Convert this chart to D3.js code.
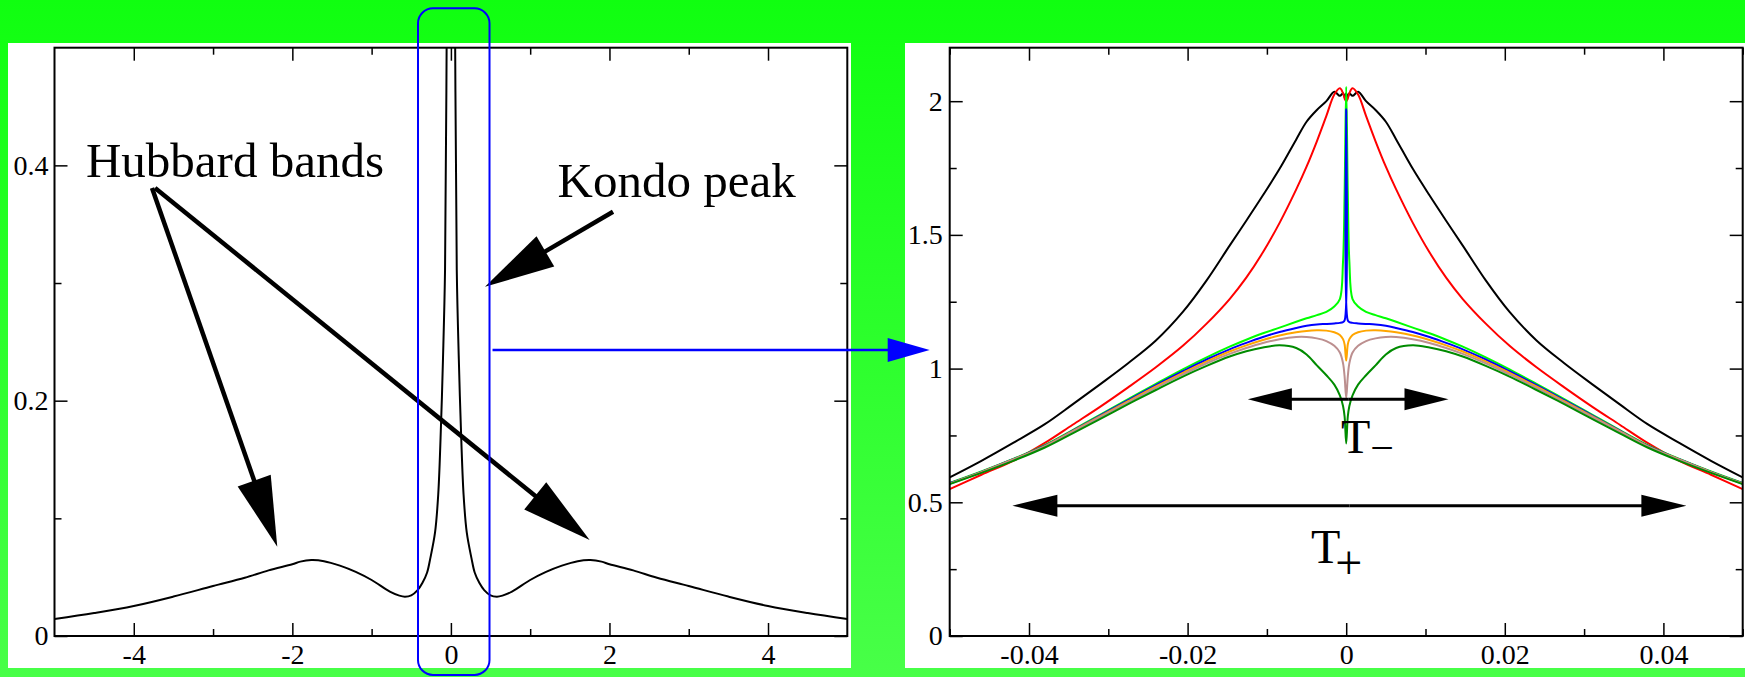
<!DOCTYPE html>
<html>
<head>
<meta charset="utf-8">
<script src="https://cdn.jsdelivr.net/npm/d3@7"></script>
<style>
  html, body { margin: 0; padding: 0; background: #fff; }
  svg { display: block; }
</style>
</head>
<body>
<svg id="fig" width="1745" height="677"></svg>
<script>
// ---- Left panel: full spectral function A(w) over the whole band ----
const wideEnergy = [-5, -4.5, -4, -3.5, -3, -2.6, -2.3, -2, -1.9, -1.76, -1.6, -1.4, -1.2, -1, -0.77, -0.65, -0.58, -0.5, -0.42,
  -0.36, -0.3, -0.26, -0.2, -0.16, -0.124, -0.1, -0.074, -0.054, -0.035, -0.02, 0,
  0.02, 0.035, 0.054, 0.074, 0.1, 0.124, 0.16, 0.2, 0.26, 0.3, 0.36, 0.42, 0.5, 0.58, 0.65,
  0.77, 1, 1.2, 1.4, 1.6, 1.76, 1.9, 2, 2.3, 2.6, 3, 3.5, 4, 4.5, 5];
const wideDos = [0.0144, 0.0195, 0.0255, 0.0335, 0.0425, 0.0495, 0.0558, 0.061, 0.0632, 0.0645, 0.0636, 0.0598, 0.0545, 0.0476, 0.0377, 0.0343, 0.0334, 0.0345, 0.039,
  0.045, 0.054, 0.066, 0.088, 0.12, 0.181, 0.235, 0.311, 0.5, 0.75, 0.95, 1.08,
  0.95, 0.75, 0.5, 0.311, 0.235, 0.181, 0.12, 0.088, 0.066, 0.054, 0.045, 0.039, 0.0345, 0.0334, 0.0343,
  0.0377, 0.0476, 0.0545, 0.0598, 0.0636, 0.0645, 0.0632, 0.061, 0.0558, 0.0495, 0.0425, 0.0335, 0.0255, 0.0195, 0.0144];
const wideXMajor = [-4, -2, 0, 2, 4];
const wideXMinor = [-3, -1, 1, 3];
const wideYMajor = [0, 0.2, 0.4];
const wideYMinor = [0.1, 0.3];

// ---- Right panel: the Kondo resonance region for several runs ----
const zoomEnergy = [-0.05, -0.046, -0.042, -0.038, -0.0345, -0.031, -0.0275, -0.024, -0.0206, -0.0176, -0.0147,
  -0.0126, -0.0105, -0.0084, -0.0063, -0.005, -0.0037, -0.0025, -0.0015, -0.0008, -0.0004, -0.0002, 0,
  0.0002, 0.0004, 0.0008, 0.0015, 0.0025, 0.0037, 0.005, 0.0063, 0.0084, 0.0105, 0.0126,
  0.0147, 0.0176, 0.0206, 0.024, 0.0275, 0.031, 0.0345, 0.038, 0.042, 0.046, 0.05];
const dosBlack = [0.593, 0.655, 0.722, 0.792, 0.866, 0.942, 1.02, 1.105, 1.212, 1.33, 1.46,
  1.553, 1.648, 1.747, 1.857, 1.923, 1.967, 2.0, 2.035, 2.02, 2.03, 2.015, 2.03,
  2.015, 2.03, 2.02, 2.035, 2.0, 1.967, 1.923, 1.857, 1.747, 1.648, 1.553,
  1.46, 1.33, 1.212, 1.105, 1.02, 0.942, 0.866, 0.792, 0.722, 0.655, 0.593];
const dosRed = [0.549, 0.603, 0.655, 0.722, 0.79, 0.858, 0.93, 1.005, 1.085, 1.168, 1.26,
  1.34, 1.435, 1.545, 1.67, 1.755, 1.85, 1.945, 2.025, 2.048, 2.03, 2.01, 2.0,
  2.01, 2.03, 2.048, 2.025, 1.945, 1.85, 1.755, 1.67, 1.545, 1.435, 1.34,
  1.26, 1.168, 1.085, 1.005, 0.93, 0.858, 0.79, 0.722, 0.655, 0.603, 0.549];
const dosGreen = [0.572, 0.615, 0.662, 0.714, 0.77, 0.828, 0.886, 0.943, 0.997, 1.042, 1.082,
  1.108, 1.132, 1.153, 1.175, 1.188, 1.2, 1.212, 1.232, 1.26, 1.40, 1.66, 2.054,
  1.66, 1.40, 1.26, 1.232, 1.212, 1.2, 1.188, 1.175, 1.153, 1.132, 1.108,
  1.082, 1.042, 0.997, 0.943, 0.886, 0.828, 0.77, 0.714, 0.662, 0.615, 0.572];
const dosBlue = [0.571, 0.614, 0.661, 0.712, 0.768, 0.825, 0.882, 0.938, 0.99, 1.034, 1.072,
  1.096, 1.118, 1.137, 1.152, 1.16, 1.165, 1.167, 1.169, 1.171, 1.174, 1.18, 1.97,
  1.18, 1.174, 1.171, 1.169, 1.167, 1.165, 1.16, 1.152, 1.137, 1.118, 1.096,
  1.072, 1.034, 0.99, 0.938, 0.882, 0.825, 0.768, 0.712, 0.661, 0.614, 0.571];
const dosOrange = [0.57, 0.613, 0.66, 0.71, 0.766, 0.822, 0.878, 0.933, 0.984, 1.027, 1.064,
  1.087, 1.107, 1.124, 1.136, 1.141, 1.143, 1.142, 1.136, 1.126, 1.11, 1.09, 1.03,
  1.09, 1.11, 1.126, 1.136, 1.142, 1.143, 1.141, 1.136, 1.124, 1.107, 1.087,
  1.064, 1.027, 0.984, 0.933, 0.878, 0.822, 0.766, 0.71, 0.66, 0.613, 0.57];
const dosBrown = [0.569, 0.612, 0.659, 0.709, 0.764, 0.819, 0.874, 0.928, 0.978, 1.02, 1.055,
  1.077, 1.096, 1.11, 1.118, 1.118, 1.113, 1.103, 1.085, 1.06, 1.02, 0.97, 0.89,
  0.97, 1.02, 1.06, 1.085, 1.103, 1.113, 1.118, 1.118, 1.11, 1.096, 1.077,
  1.055, 1.02, 0.978, 0.928, 0.874, 0.819, 0.764, 0.709, 0.659, 0.612, 0.569];
const dosDarkGreen = [0.568, 0.61, 0.655, 0.705, 0.758, 0.812, 0.867, 0.92, 0.97, 1.01, 1.045,
  1.065, 1.079, 1.087, 1.077, 1.053, 1.012, 0.975, 0.94, 0.9, 0.86, 0.82, 0.72,
  0.82, 0.86, 0.9, 0.94, 0.975, 1.012, 1.053, 1.077, 1.087, 1.079, 1.065,
  1.045, 1.01, 0.97, 0.92, 0.867, 0.812, 0.758, 0.705, 0.655, 0.61, 0.568];
const zoomSeries = [dosBlack, dosRed, dosGreen, dosBlue, dosOrange, dosBrown, dosDarkGreen];
const zoomColors = ["#000000", "#ff0000", "#00ff00", "#0000ff", "#ffa500", "#bc8f8f", "#008b00"];
const zoomXMajor = [-0.04, -0.02, 0, 0.02, 0.04];
const zoomXMinor = [-0.05, -0.03, -0.01, 0.01, 0.03, 0.05];
const zoomYMajor = [0, 0.5, 1, 1.5, 2];
const zoomYMinor = [0.25, 0.75, 1.25, 1.75];

const FONT = "'Liberation Serif', 'Times New Roman', Times, serif";
const svg = d3.select("#fig");
const defs = svg.append("defs");

// green backdrop
const grad = defs.append("linearGradient").attr("id", "bg")
  .attr("x1", 0).attr("y1", 0).attr("x2", 0).attr("y2", 1);
grad.append("stop").attr("offset", "0%").attr("stop-color", "#10ff10");
grad.append("stop").attr("offset", "100%").attr("stop-color", "#48ff48");
svg.append("rect").attr("width", 1745).attr("height", 677).attr("fill", "url(#bg)");

// white sheets behind each graph
svg.append("rect").attr("x", 8).attr("y", 43).attr("width", 843).attr("height", 625).attr("fill", "#fff");
svg.append("rect").attr("x", 905).attr("y", 43).attr("width", 840).attr("height", 625).attr("fill", "#fff");

const xL = d3.scaleLinear().domain([-5, 5]).range([54.5, 847.3]);
const yL = d3.scaleLinear().domain([0, 0.5]).range([636, 47.7]);
const xR = d3.scaleLinear().domain([-0.05, 0.05]).range([949.7, 1742.7]);
const yR = d3.scaleLinear().domain([0, 2.2]).range([636, 47.7]);

function styleAxis(sel) {
  sel.attr("font-family", FONT).attr("font-size", 28);
  sel.select(".domain").remove();
  sel.selectAll("line").attr("stroke", "#000").attr("stroke-width", 1.5);
  sel.selectAll("text").attr("font-family", FONT).attr("font-size", 28).attr("fill", "#000");
}

function drawAxes(x, y, o) {
  const g = svg.append("g");
  const [x0, x1] = x.range();
  const [y0, y1] = y.range();
  const blank = () => "";
  const fmt = d => String(d);
  // inward ticks on all four sides
  g.append("g").attr("transform", `translate(0,${y0})`)
    .call(d3.axisTop(x).tickValues(o.xMajor).tickSize(13).tickFormat(blank)).call(styleAxis);
  g.append("g").attr("transform", `translate(0,${y0})`)
    .call(d3.axisTop(x).tickValues(o.xMinor).tickSize(7).tickFormat(blank)).call(styleAxis);
  g.append("g").attr("transform", `translate(0,${y1})`)
    .call(d3.axisBottom(x).tickValues(o.xMajor).tickSize(13).tickFormat(blank)).call(styleAxis);
  g.append("g").attr("transform", `translate(0,${y1})`)
    .call(d3.axisBottom(x).tickValues(o.xMinor).tickSize(7).tickFormat(blank)).call(styleAxis);
  g.append("g").attr("transform", `translate(${x0},0)`)
    .call(d3.axisRight(y).tickValues(o.yMajor).tickSize(13).tickFormat(blank)).call(styleAxis);
  g.append("g").attr("transform", `translate(${x0},0)`)
    .call(d3.axisRight(y).tickValues(o.yMinor).tickSize(7).tickFormat(blank)).call(styleAxis);
  g.append("g").attr("transform", `translate(${x1},0)`)
    .call(d3.axisLeft(y).tickValues(o.yMajor).tickSize(13).tickFormat(blank)).call(styleAxis);
  g.append("g").attr("transform", `translate(${x1},0)`)
    .call(d3.axisLeft(y).tickValues(o.yMinor).tickSize(7).tickFormat(blank)).call(styleAxis);
  // tick labels
  g.append("g").attr("transform", `translate(0,${y0})`)
    .call(d3.axisBottom(x).tickValues(o.xMajor).tickSize(0).tickPadding(8).tickFormat(fmt)).call(styleAxis);
  g.append("g").attr("transform", `translate(${x0},0)`)
    .call(d3.axisLeft(y).tickValues(o.yMajor).tickSize(0).tickPadding(o.yPad).tickFormat(fmt)).call(styleAxis);
  // frame
  g.append("rect").attr("x", x0).attr("y", y1).attr("width", x1 - x0).attr("height", y0 - y1)
    .attr("fill", "none").attr("stroke", "#000").attr("stroke-width", 2);
}

function clipFor(id, x, y) {
  const [x0, x1] = x.range();
  const [y0, y1] = y.range();
  defs.append("clipPath").attr("id", id).append("rect")
    .attr("x", x0).attr("y", y1).attr("width", x1 - x0).attr("height", y0 - y1);
  return `url(#${id})`;
}

// filled-head arrow between two pixel points
function arrow(g, p1, p2, headLen, headW, color, width) {
  const dx = p2[0] - p1[0], dy = p2[1] - p1[1];
  const L = Math.hypot(dx, dy), ux = dx / L, uy = dy / L;
  const bx = p2[0] - ux * headLen, by = p2[1] - uy * headLen;
  g.append("line").attr("x1", p1[0]).attr("y1", p1[1]).attr("x2", bx + ux * 3).attr("y2", by + uy * 3)
    .attr("stroke", color).attr("stroke-width", width);
  g.append("path")
    .attr("d", `M${p2[0]},${p2[1]}L${bx - uy * headW / 2},${by + ux * headW / 2}L${bx + uy * headW / 2},${by - ux * headW / 2}Z`)
    .attr("fill", color);
}
function doubleArrow(g, p1, p2, headLen, headW, color, width) {
  const mid = [(p1[0] + p2[0]) / 2, (p1[1] + p2[1]) / 2];
  arrow(g, mid, p1, headLen, headW, color, width);
  arrow(g, mid, p2, headLen, headW, color, width);
}

const smooth = d3.curveCatmullRom.alpha(0.5);

// ---------- left panel ----------
const leftClip = clipFor("clipL", xL, yL);
svg.append("path")
  .datum(wideEnergy.map((e, i) => [e, wideDos[i]]))
  .attr("clip-path", leftClip)
  .attr("fill", "none").attr("stroke", "#000").attr("stroke-width", 2)
  .attr("d", d3.line().x(d => xL(d[0])).y(d => yL(d[1])).curve(smooth));
drawAxes(xL, yL, { xMajor: wideXMajor, xMinor: wideXMinor, yMajor: wideYMajor, yMinor: wideYMinor, yPad: 6 });

const annL = svg.append("g");
annL.append("text").attr("x", xL(-4.603)).attr("y", yL(0.3904))
  .attr("font-family", FONT).attr("font-size", 49).text("Hubbard bands");
annL.append("text").attr("x", xL(1.345)).attr("y", yL(0.3734))
  .attr("font-family", FONT).attr("font-size", 49).text("Kondo peak");
arrow(annL, [xL(-3.77), yL(0.3808)], [xL(-2.19), yL(0.0759)], 70, 35, "#000", 4.5);
arrow(annL, [xL(-3.732), yL(0.3808)], [xL(1.75), yL(0.0816)], 70, 35, "#000", 4.5);
arrow(annL, [xL(2.045), yL(0.3606)], [xL(0.43), yL(0.2968)], 70, 35, "#000", 4.5);

// ---------- right panel ----------
const rightClip = clipFor("clipR", xR, yR);
const lineR = d3.line().x(d => xR(d[0])).y(d => yR(d[1])).curve(smooth);
svg.append("g").attr("clip-path", rightClip)
  .selectAll("path").data(zoomSeries).join("path")
  .attr("fill", "none")
  .attr("stroke", (d, i) => zoomColors[i])
  .attr("stroke-width", 2)
  .attr("stroke-linejoin", "round")
  .attr("d", s => lineR(zoomEnergy.map((e, i) => [e, s[i]])));
drawAxes(xR, yR, { xMajor: zoomXMajor, xMinor: zoomXMinor, yMajor: zoomYMajor, yMinor: zoomYMinor, yPad: 7 });

const annR = svg.append("g");
doubleArrow(annR, [xR(-0.0124), yR(0.885)], [xR(0.0129), yR(0.885)], 44, 22, "#000", 3);
doubleArrow(annR, [xR(-0.0421), yR(0.4873)], [xR(0.0429), yR(0.4873)], 45, 22, "#000", 3);
const tMinus = annR.append("text").attr("x", xR(-0.00066)).attr("y", yR(0.6832))
  .attr("font-family", FONT).attr("font-size", 48);
tMinus.append("tspan").text("T");
tMinus.append("tspan").attr("dy", 9).attr("font-size", 42).text("\u2212");
const tPlus = annR.append("text").attr("x", xR(-0.00444)).attr("y", yR(0.2741))
  .attr("font-family", FONT).attr("font-size", 48);
tPlus.append("tspan").text("T");
tPlus.append("tspan").attr("dx", -5).attr("dy", 16).text("+");

// ---------- zoom-window marker linking the two panels ----------
const marker = svg.append("g");
marker.append("rect")
  .attr("x", xL(-0.415)).attr("y", yL(0.5335))
  .attr("width", xL(0.487) - xL(-0.415)).attr("height", yL(-0.0331) - yL(0.5335))
  .attr("rx", 15).attr("ry", 15)
  .attr("fill", "none").attr("stroke", "#0000ff").attr("stroke-width", 2);
arrow(marker, [xL(0.525), yL(0.2431)], [xR(-0.05) - 20, yL(0.2431)], 42, 24, "#0000ff", 2.5);
</script>
</body>
</html>
